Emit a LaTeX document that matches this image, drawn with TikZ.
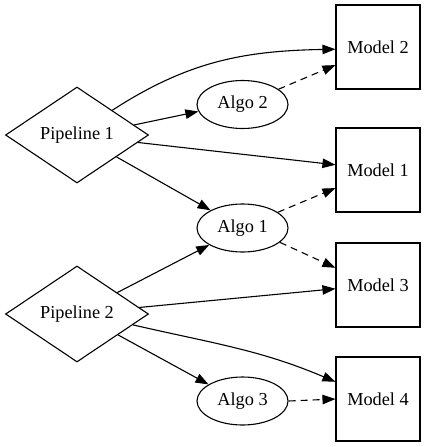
\documentclass[tikz,border=0pt]{standalone}
\usepackage{fontspec}
\setmainfont{Liberation Serif}
\usetikzlibrary{shapes.geometric,arrows.meta}
\begin{document}
\begin{tikzpicture}[x=1pt,y=-1pt,
  every node/.style={font=\fontsize{18.3}{22}\selectfont, line width=1.1pt},
  pipe/.style={draw, diamond, inner sep=0pt, aspect=1.5, minimum width=143pt, minimum height=96pt},
  algo/.style={draw, ellipse, inner sep=0pt, minimum width=91pt, minimum height=48pt},
  model/.style={draw, rectangle, inner sep=0pt, minimum width=84pt, minimum height=84pt},
  edge/.style={line width=1.1pt, -{Triangle[length=13pt,width=9.5pt]}},
  dedge/.style={edge, dash pattern=on 7pt off 5pt}]
\useasboundingbox (0,0) rectangle (426,447);
\node[pipe] (p1) at (77,135) {Pipeline 1};
\node[pipe] (p2) at (77,314) {Pipeline 2};
\node[algo] (a2) at (242.5,104.5) {Algo 2};
\node[algo] (a1) at (242.5,228) {Algo 1};
\node[algo] (a3) at (242.5,401) {Algo 3};
\node[model] (m2) at (378,47) {Model 2};
\node[model] (m1) at (378,170) {Model 1};
\node[model] (m3) at (378,285) {Model 3};
\node[model] (m4) at (378,399) {Model 4};
\draw[edge] (p1.35) to[out=33,in=181] (m2.183);
\draw[edge] (p1.10.7) -- (a2.189.4);
\draw[edge] (p1.-7.2) -- (m1.173.2);
\draw[edge] (p1.-29.9) -- (a1.151);
\draw[dedge] (a2.23.6) -- (m2.203.2);
\draw[dedge] (a1.24.6) -- (m1.203);
\draw[dedge] (a1.-21) -- (m3.158);
\draw[edge] (p2.28.2) -- (a1.207);
\draw[edge] (p2.6.1) -- (m3.185.4);
\draw[edge] (p2.-11.1) to[out=-13,in=157] (m4.158);
\draw[edge] (p2.-27) -- (a3.154);
\draw[dedge] (a3.east) -- (m4.west);
\end{tikzpicture}
\end{document}
